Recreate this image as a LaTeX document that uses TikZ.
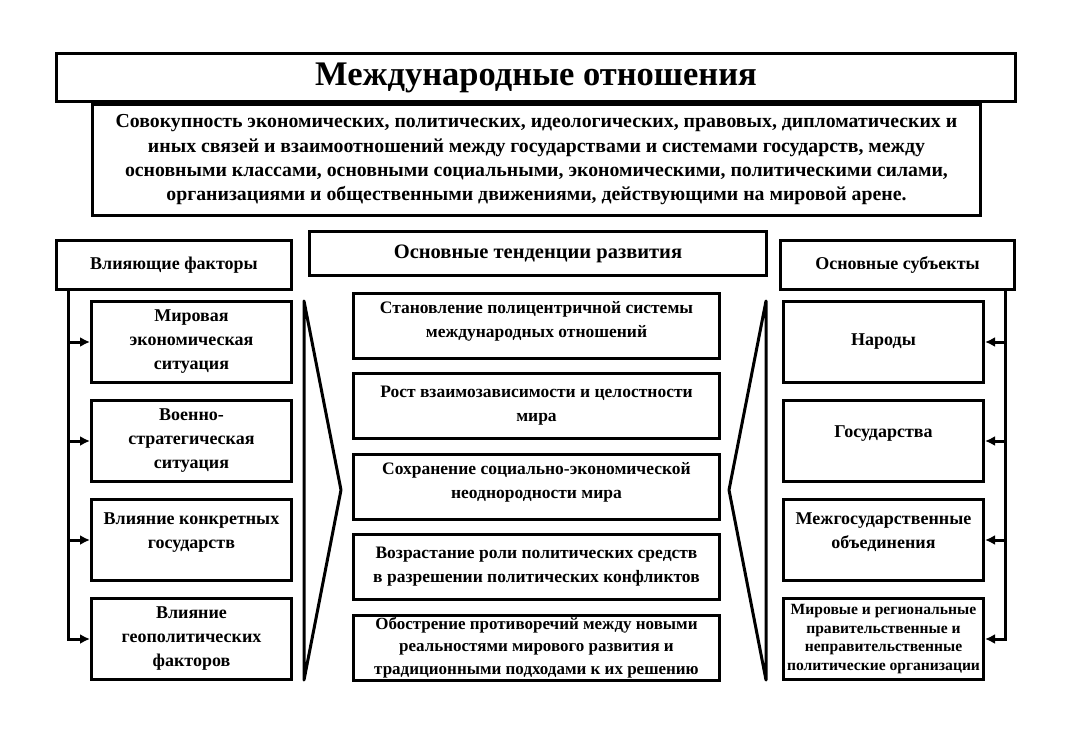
\documentclass[tikz,border=0pt]{standalone}
\usepackage{fontspec}
\setmainfont{Liberation Serif}
\usetikzlibrary{shapes,arrows.meta,positioning}
\begin{document}
\begin{tikzpicture}[x=1pt,y=-1pt]
    % Styles
        \tikzstyle{block} = [rectangle, draw, fill=white, text centered, align=center, line width=3pt, inner sep=1pt, font=\fontsize{18}{24}\selectfont\bfseries]
        \tikzstyle{heading} = [block, minimum height=49pt, minimum width=235pt]
        \tikzstyle{factor} = [block, minimum height=81pt, minimum width=200pt]
        \tikzstyle{trend} = [block, minimum height=65pt, minimum width=366pt, font=\fontsize{17.5}{24}\selectfont\bfseries]
        \tikzstyle{line} = [draw, line width=3pt]
        \tikzstyle{arrow} = [draw, line width=3pt, -{Latex[length=10pt,width=10pt]}]
    \useasboundingbox (0,0) rectangle (1075,751);
    % top
        \node [block, minimum width=888pt, minimum height=111pt, font=\fontsize{19.8}{24.3}\selectfont\bfseries] (definition) at (536.5,160) {Совокупность экономических, политических, идеологических, правовых, дипломатических и\\иных связей и взаимоотношений между государствами и системами государств, между\\основными классами, основными социальными, экономическими, политическими силами,\\организациями и общественными движениями, действующими на мировой арене.};
        \node [block, minimum width=959pt, minimum height=48pt, font=\fontsize{34.5}{38}\selectfont\bfseries] (title) at (536,77.5) {Международные отношения};
    % left column
        \node [heading] (factors) at (174,265) {Влияющие факторы};
        \node [factor] (factor1) at (191.5,342) {Мировая\\экономическая\\ситуация};
        \node [factor, below = 15pt of factor1] (factor2) {Военно-\\стратегическая\\ситуация};
        \node [factor, below = 15pt of factor2] (factor3) {Влияние конкретных\\государств\\[-6pt]};
        \node [factor, below = 15pt of factor3] (factor4) {Влияние\\геополитических\\факторов};
    % middle column
        \node [heading, minimum width=457pt, minimum height=44pt, font=\fontsize{20.5}{24}\selectfont\bfseries] (trends) at (538,253.5) {Основные тенденции развития};
        \node [trend] (trend1) at (536.5,325.5) {Становление полицентричной системы\\международных отношений\\[-12pt]};
        \node [trend, below = 12.5pt of trend1] (trend2) {Рост взаимозависимости и целостности\\мира};
        \node [trend, below = 12.5pt of trend2] (trend3) {Сохранение социально-экономической\\неоднородности мира\\[-12pt]};
        \node [trend, below = 12.5pt of trend3] (trend4) {Возрастание роли политических средств\\в разрешении политических конфликтов};
        \node [trend, below = 12.5pt of trend4, font=\fontsize{17}{22.5}\selectfont\bfseries] (trend5) {Обострение противоречий между новыми\\реальностями мирового развития и\\традиционными подходами к их решению};
    % right column
        \node [heading, minimum width=234pt] (subjects) at (897.5,265) {Основные субъекты};
        \node [factor] (subject1) at (883.5,342) {Народы};
        \node [factor, below = 15pt of subject1] (subject2) {Государства\\[-6pt]};
        \node [factor, below = 15pt of subject2] (subject3) {Межгосударственные\\объединения\\[-6pt]};
        \node [factor, below = 15pt of subject3, font=\fontsize{15.6}{18.7}\selectfont\bfseries] (subject4) {Мировые и региональные\\правительственные и\\неправительственные\\политические организации};
    % trunks
        \coordinate (ftrunk) at ([xshift=-106pt]factors.south);
        \coordinate (strunk) at ([xshift=107.5pt]subjects.south);
    % Draw edges
        \foreach \n in {1,2,3}
            \path [arrow] (ftrunk |- factor\n.west) -- (factor\n.west);
        \path [arrow] (ftrunk) |- (factor4.west);
        \foreach \n in {1,2,3}
            \path [arrow] (strunk |- subject\n.east) -- (subject\n.east);
        \path [arrow] (strunk) |- (subject4.east);
    % chevrons
        \path [line, line join=round] (304,301) -- (341,490) -- (304,680) -- cycle;
        \path [line, line join=round] (766,301) -- (729,490) -- (766,680) -- cycle;
    \end{tikzpicture}
\end{document}
